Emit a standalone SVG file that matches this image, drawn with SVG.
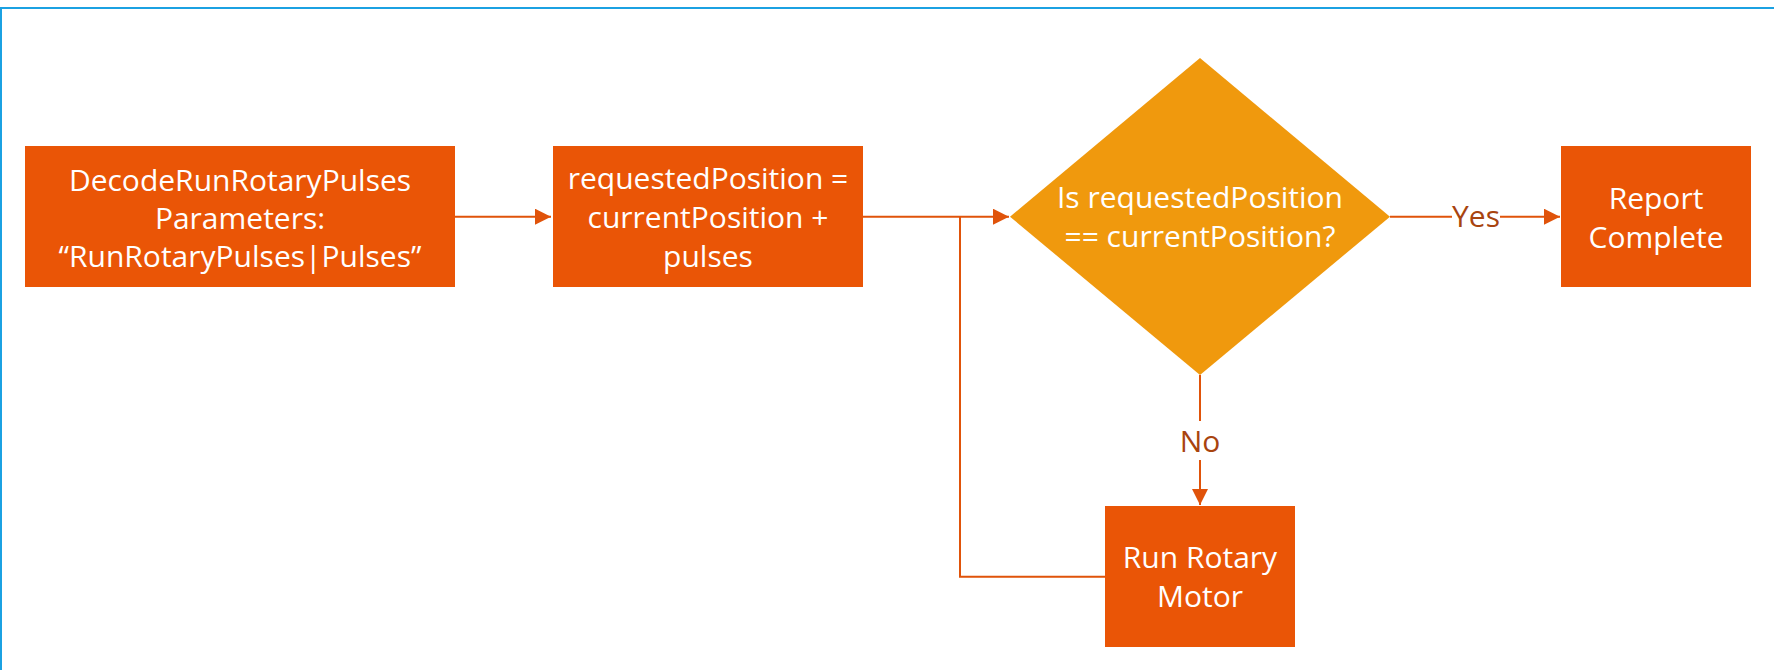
<svg xmlns="http://www.w3.org/2000/svg" width="1774" height="670" viewBox="0 0 1774 670">
<defs>
<style>
.box{fill:#EA5506}
.dia{fill:#F0990D}
.t{font-family:"Open Sans","Noto Sans",sans-serif;font-size:30px;fill:#FFFFFF;text-anchor:middle}
.lbl{font-family:"Open Sans","Noto Sans",sans-serif;font-size:30px;fill:#A8440F;text-anchor:middle}
.ln{fill:none;stroke:#E0530A;stroke-width:2}
</style>
<marker id="ah" markerWidth="16" markerHeight="16" refX="16" refY="8" orient="auto" markerUnits="userSpaceOnUse">
<path d="M0,0 L16,8 L0,16 Z" fill="#E0530A"/>
</marker>
</defs>
<rect x="0" y="0" width="1774" height="670" fill="#FFFFFF"/>
<g id="frame">
<line x1="0" y1="8" x2="1774" y2="8" stroke="#1BA1E2" stroke-width="2"/>
<line x1="1" y1="8" x2="1" y2="670" stroke="#1BA1E2" stroke-width="2"/>
</g>
<g id="connectors">
<path class="ln" d="M455,216.7 L551,216.7" marker-end="url(#ah)"/>
<path class="ln" d="M863,216.7 L1009,216.7" marker-end="url(#ah)"/>
<path class="ln" d="M1105,576.7 L960,576.7 L960,216.7"/>
<path class="ln" d="M1390,216.7 L1452,216.7"/>
<path class="ln" d="M1500,216.7 L1560,216.7" marker-end="url(#ah)"/>
<text class="lbl" x="1476" y="227">Yes</text>
<path class="ln" d="M1200,375 L1200,421"/>
<path class="ln" d="M1200,460 L1200,505" marker-end="url(#ah)"/>
<text class="lbl" x="1200" y="452">No</text>
</g>
<g id="decode">
<rect class="box" x="25" y="146" width="430" height="141"/>
<text class="t" x="240" y="190.7">DecodeRunRotaryPulses</text>
<text class="t" x="240" y="229">Parameters:</text>
<text class="t" x="240" y="267.3">“RunRotaryPulses|Pulses”</text>
</g>
<g id="compute">
<rect class="box" x="553" y="146" width="310" height="141"/>
<text class="t" x="708" y="189.3">requestedPosition =</text>
<text class="t" x="708" y="228.3">currentPosition +</text>
<text class="t" x="708" y="266.7">pulses</text>
</g>
<g id="decision">
<polygon class="dia" points="1200,58 1390,216.7 1200,375 1010,216.7"/>
<text class="t" x="1200" y="208.3">Is requestedPosition</text>
<text class="t" x="1200" y="246.7">== currentPosition?</text>
</g>
<g id="report">
<rect class="box" x="1561" y="146" width="190" height="141"/>
<text class="t" x="1656" y="209">Report</text>
<text class="t" x="1656" y="247.7">Complete</text>
</g>
<g id="runmotor">
<rect class="box" x="1105" y="506" width="190" height="141"/>
<text class="t" x="1200" y="568">Run Rotary</text>
<text class="t" x="1200" y="607">Motor</text>
</g>
</svg>
